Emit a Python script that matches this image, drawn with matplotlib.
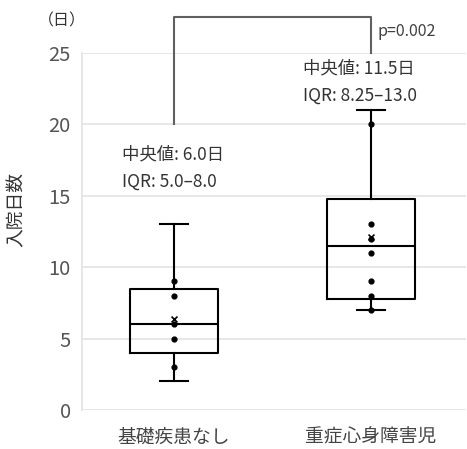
import matplotlib
matplotlib.use("Agg")
import matplotlib.pyplot as plt
import numpy as np

plt.rcParams['font.family'] = ['Noto Sans CJK JP', 'DejaVu Sans']

categories = ["基礎疾患なし", "重症心身障害児"]
whisker_low = [2.0, 7.0]
q1 = [4.0, 7.75]
medians = [6.0, 11.5]
q3 = [8.5, 14.75]
whisker_high = [13.0, 21.0]
means = [6.4, 12.1]
points = [[3, 5, 6, 8, 9], [7, 8, 9, 11, 12, 13, 20]]
annot_lines1 = ["中央値: 6.0日", "IQR: 5.0\u20138.0"]
annot_lines2 = ["中央値: 11.5日", "IQR: 8.25\u201313.0"]
annot_y = [17.9, 23.9]
p_text = "p=0.002"
bracket_top = 27.5
bracket_legs = [20.0, 25.0]
yticks = [0, 5, 10, 15, 20, 25]

fig = plt.figure(figsize=(4.67, 4.49), dpi=100)
ax = fig.add_axes([82/467, 39/449, 384/467, 357/449])
ax.set_xlim(-0.467, 1.482)
ax.set_ylim(0, 25)

for y in yticks:
    ax.axhline(y, color='#e3e3e3', lw=1.2, zorder=0)

stats = []
for i in range(2):
    stats.append(dict(med=medians[i], q1=q1[i], q3=q3[i],
                      whislo=whisker_low[i], whishi=whisker_high[i],
                      mean=means[i], fliers=[], label=categories[i]))
lw = 1.5
ax.bxp(stats, positions=[0, 1], widths=0.45, showmeans=False, showfliers=False,
       boxprops=dict(color='black', lw=lw), medianprops=dict(color='black', lw=lw),
       whiskerprops=dict(color='black', lw=lw), capprops=dict(color='black', lw=lw),
       capwidths=0.14, manage_ticks=False)
for i in range(2):
    ax.scatter([i]*len(points[i]), points[i], s=12, color='black', zorder=5)
    ax.scatter([i], [means[i]], marker='x', s=18, color='black', lw=1.2, zorder=5)

# bracket
ax.plot([0, 0, 1, 1], [bracket_legs[0], bracket_top, bracket_top, bracket_legs[1]],
        color='#606060', lw=1.5, clip_on=False)
ax.text(1.035, 26.5, p_text, fontsize=11.5, color='#404040', va='center', ha='left')

fs = 12.5
ax.text(-0.265, annot_y[0], annot_lines1[0], fontsize=fs, color='#333333', va='center')
ax.text(-0.265, annot_y[0]-1.9, annot_lines1[1], fontsize=fs, color='#333333', va='center')
ax.text(0.655, annot_y[1], annot_lines2[0], fontsize=fs, color='#333333', va='center')
ax.text(0.655, annot_y[1]-1.9, annot_lines2[1], fontsize=fs, color='#333333', va='center')

ax.set_yticks(yticks)
ax.set_yticklabels([str(t) for t in yticks], fontsize=14.5, color='#555555')
ax.set_xticks([0, 1])
ax.set_xticklabels(categories, fontsize=13.5, color='#444444')
ax.tick_params(axis='both', length=0, pad=8)
ax.tick_params(axis='x', pad=12)
for s in ['top', 'right', 'bottom']:
    ax.spines[s].set_visible(False)
ax.spines['left'].set_color('#e3e3e3')
ax.spines['left'].set_linewidth(1.2)

ax.set_ylabel("入院日数", fontsize=13.5, color='#333333')
ax.yaxis.set_label_coords(-0.145, 0.563)
fig.text(62/467, 1-21/449, "（日）", fontsize=11.5, color='#333333', ha='center', va='center')

fig.savefig("out.png", dpi=100)
